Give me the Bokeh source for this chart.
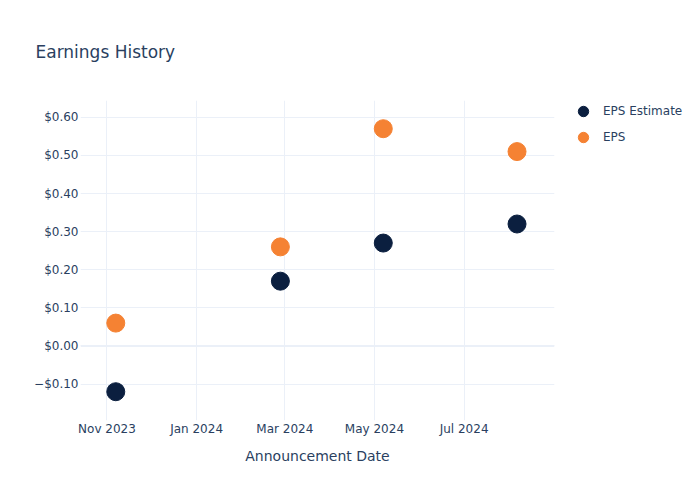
from datetime import datetime
from bokeh.plotting import figure
from bokeh.models import (ColumnDataSource, FixedTicker, MonthsTicker, DatetimeTickFormatter,
                          Legend, LegendItem, Span, Range1d)
from bokeh.embed import file_html
from bokeh.resources import INLINE

dates = ["2023-11-07", "2024-02-27", "2024-05-07", "2024-08-06"]
eps_estimate = [-0.12, 0.17, 0.27, 0.32]
eps_actual = [0.06, 0.26, 0.57, 0.51]
y_ticks = [-0.1, 0.0, 0.1, 0.2, 0.3, 0.4, 0.5, 0.6]
y_tick_labels = ["\u2212$0.10", "$0.00", "$0.10", "$0.20", "$0.30", "$0.40", "$0.50", "$0.60"]
series_names = ["EPS Estimate", "EPS"]

NAVY = "#0b1f3f"
ORANGE = "#f58233"
TXT = "#2a3f5f"
GRID = "#ebf0f8"
FONT = "DejaVu Sans"

x = [datetime.strptime(d, "%Y-%m-%d") for d in dates]
src = ColumnDataSource(dict(x=x, est=eps_estimate, eps=eps_actual))

p = figure(frame_width=474, frame_height=320, output_backend="svg", toolbar_location=None,
           x_axis_type="datetime",
           x_range=Range1d(datetime(2023, 10, 14), datetime(2024, 8, 31, 12)),
           y_range=Range1d(-0.1955, 0.644),
           min_border_left=80, min_border_right=146, min_border_top=100, min_border_bottom=80,
           title="Earnings History")
p.outline_line_color = None
p.background_fill_color = "white"
p.border_fill_color = "white"
p.title.text_font = FONT
p.title.text_font_size = "17px"
p.title.text_font_style = "normal"
p.title.text_color = TXT
p.title.align = "left"
p.title.offset = -45
p.title.standoff = 78

r1 = p.scatter("x", "est", source=src, size=18, color=NAVY, line_color=NAVY)
r2 = p.scatter("x", "eps", source=src, size=18, color=ORANGE, line_color=ORANGE)

# axes
p.xaxis.ticker = MonthsTicker(months=[0, 2, 4, 6, 8, 10])
p.xaxis.formatter = DatetimeTickFormatter(months="%b %Y", days="%b %Y")
p.xgrid.ticker = p.xaxis.ticker
p.yaxis.ticker = FixedTicker(ticks=y_ticks)
p.yaxis.major_label_overrides = {t: l for t, l in zip(y_ticks, y_tick_labels)}
for ax in (p.xaxis[0], p.yaxis[0]):
    ax.axis_line_color = None
    ax.major_tick_line_color = None
    ax.minor_tick_line_color = None
    ax.major_tick_out = 0
    ax.minor_tick_out = 0
    ax.major_label_text_color = TXT
    ax.major_label_text_font = FONT
    ax.major_label_text_font_size = "12px"
p.yaxis.major_label_standoff = 2
p.xaxis.major_label_standoff = 1
p.xaxis.axis_label = "Announcement Date"
p.xaxis.axis_label_text_font = FONT
p.xaxis.axis_label_text_font_size = "14px"
p.xaxis.axis_label_text_font_style = "normal"
p.xaxis.axis_label_text_color = TXT
p.xaxis.axis_label_standoff = 9

p.xgrid.grid_line_color = GRID
p.ygrid.grid_line_color = GRID
p.add_layout(Span(location=0, dimension="width", line_color=GRID, line_width=2), "center")

# legend
legend = Legend(items=[LegendItem(label=series_names[0], renderers=[r1]),
                       LegendItem(label=series_names[1], renderers=[r2])],
                location=(9, 270), background_fill_alpha=0, border_line_color=None,
                label_text_font=FONT, label_text_font_size="12px", label_text_color=TXT,
                glyph_width=40, glyph_height=26, spacing=0, padding=4, margin=0,
                label_standoff=0)
p.add_layout(legend, "right")

open("out.html", "w").write(file_html(p, INLINE))
